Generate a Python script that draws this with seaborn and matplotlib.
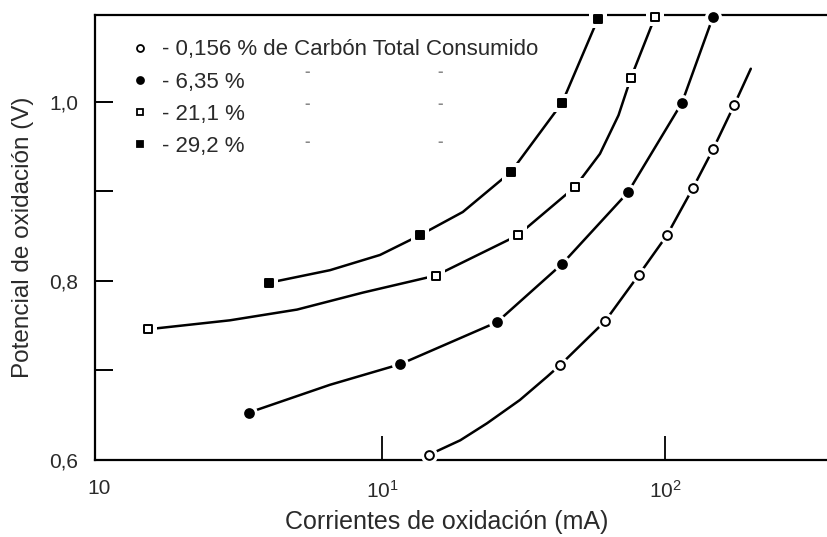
import numpy as np
import pandas as pd
import seaborn as sns
import matplotlib.pyplot as plt
from matplotlib.lines import Line2D
from matplotlib.ticker import FixedLocator, NullLocator

sns.set_theme(style="white")
plt.rcParams['font.family'] = ['Liberation Sans', 'DejaVu Sans']

# ---- data ----
serie_labels = ["- 0,156 % de Carbón Total Consumido", "- 6,35 %", "- 21,1 %", "- 29,2 %"]

# measured points (markers)
s1_i = [14.7, 42.6, 61.4, 80.9, 101.6, 125.6, 147.8, 175.3]
s1_e = [0.606, 0.706, 0.755, 0.807, 0.851, 0.904, 0.947, 0.996]
s2_i = [3.39, 11.6, 25.5, 43.3, 74.0, 114.8, 147.8]
s2_e = [0.653, 0.707, 0.754, 0.819, 0.899, 0.999, 1.095]
s3_i = [1.49, 15.5, 30.2, 48.1, 75.8, 92.2]
s3_e = [0.746, 0.806, 0.851, 0.905, 1.027, 1.095]
s4_i = [3.99, 13.6, 28.6, 43.3, 58.0]
s4_e = [0.798, 0.851, 0.922, 0.999, 1.093]

# extra points read along the drawn (fitted) curves, between markers
s1_curve_i = [18.9, 23.5, 30.7, 38.3, 201.0]
s1_curve_e = [0.622, 0.641, 0.667, 0.693, 1.037]
s2_curve_i = [6.55]
s2_curve_e = [0.684]
s3_curve_i = [2.90, 5.01, 8.57, 58.9, 68.5]
s3_curve_e = [0.756, 0.768, 0.787, 0.942, 0.985]
s4_curve_i = [6.55, 9.84, 19.3]
s4_curve_e = [0.812, 0.829, 0.877]

x_ticks = [1, 10, 100]
x_ticklabels = ["10", r"$\mathregular{10^1}$", r"$\mathregular{10^2}$"]
y_ticks = [0.6, 0.8, 1.0]
y_ticklabels = ["0,6", "0,8", "1,0"]
y_minor = [0.7, 0.9]

# ---- tables ----
pts = pd.concat([
    pd.DataFrame({"I": s1_i, "E": s1_e, "serie": "s1"}),
    pd.DataFrame({"I": s2_i, "E": s2_e, "serie": "s2"}),
    pd.DataFrame({"I": s3_i, "E": s3_e, "serie": "s3"}),
    pd.DataFrame({"I": s4_i, "E": s4_e, "serie": "s4"}),
], ignore_index=True)
curve = pd.concat([
    pts,
    pd.DataFrame({"I": s1_curve_i, "E": s1_curve_e, "serie": "s1"}),
    pd.DataFrame({"I": s2_curve_i, "E": s2_curve_e, "serie": "s2"}),
    pd.DataFrame({"I": s3_curve_i, "E": s3_curve_e, "serie": "s3"}),
    pd.DataFrame({"I": s4_curve_i, "E": s4_curve_e, "serie": "s4"}),
], ignore_index=True).sort_values(["serie", "I"])

styles = {
    "s1": dict(marker="o", fc="white"),
    "s2": dict(marker="o", fc="black"),
    "s3": dict(marker="s", fc="white"),
    "s4": dict(marker="s", fc="black"),
}

fig = plt.figure(figsize=(8.27, 5.37), dpi=100)
ax = fig.add_axes([95 / 827, 1 - 460 / 537, 732 / 827, 445 / 537])
ax.set_xscale("log")

sns.lineplot(data=curve, x="I", y="E", hue="serie",
             palette={k: "black" for k in styles}, estimator=None, sort=False,
             lw=1.8, legend=False, ax=ax, zorder=2)
for ln in ax.get_lines():
    ln.set_solid_joinstyle("round")

for name, st in styles.items():
    sub = pts[pts.serie == name]
    sns.scatterplot(data=sub, x="I", y="E", marker=st["marker"], s=150,
                    color="white", linewidth=0, ax=ax, legend=False,
                    zorder=3, clip_on=False)
    sns.scatterplot(data=sub, x="I", y="E", marker=st["marker"], s=40,
                    facecolor=st["fc"], edgecolor="black", linewidth=1.4,
                    ax=ax, legend=False, zorder=4, clip_on=False)

ax.set_xlim(0.968, 373.6)
ax.set_ylim(0.6, 1.097)

ax.set_xticks(x_ticks)
ax.set_xticklabels(x_ticklabels)
ax.xaxis.set_minor_locator(NullLocator())
ax.set_yticks(y_ticks)
ax.set_yticklabels(y_ticklabels)
ax.yaxis.set_minor_locator(FixedLocator(y_minor))

txt = "#2a2a2a"
ax.tick_params(axis="x", which="major", direction="in", length=17, width=1.3,
               color="black", pad=14, labelsize=15, labelcolor=txt, bottom=True)
ax.tick_params(axis="y", which="both", direction="in", length=13, width=1.4,
               color="black", pad=12, labelsize=15, labelcolor=txt, left=True)
ax.xaxis.get_major_ticks()[0].tick1line.set_visible(False)

for side in ["left", "top", "bottom"]:
    ax.spines[side].set_visible(True)
    ax.spines[side].set_color("black")
    ax.spines[side].set_linewidth(1.6)
ax.spines["right"].set_visible(False)
ax.grid(False)

ax.set_xlabel("Corrientes de oxidación (mA)", fontsize=18, color=txt)
ax.xaxis.set_label_coords(0.481, -0.139)
ax.xaxis.label.set_va("center")
ax.set_ylabel("Potencial de oxidación (V)", fontsize=17.5, color=txt)
ax.yaxis.set_label_coords(-0.099, 0.501)
ax.yaxis.label.set_va("center")

handles = [Line2D([], [], linestyle="none", marker=st["marker"], markersize=5,
                  markerfacecolor=st["fc"], markeredgecolor="black",
                  markeredgewidth=1.3) for st in styles.values()]
ax.legend(handles, serie_labels, loc="upper left", bbox_to_anchor=(0.026, 0.99),
          frameon=False, handlelength=0.5, handletextpad=0.75, labelspacing=0.5,
          prop={"size": 16}, labelcolor=txt)

for yy in [0.872, 0.802, 0.715]:
    for xx in [(307 - 95) / 732, (440 - 95) / 732]:
        ax.text(xx, yy, "-", transform=ax.transAxes, fontsize=12, color="#888888",
                fontweight="bold", ha="center", va="center")

fig.savefig("out.png", dpi=100)
